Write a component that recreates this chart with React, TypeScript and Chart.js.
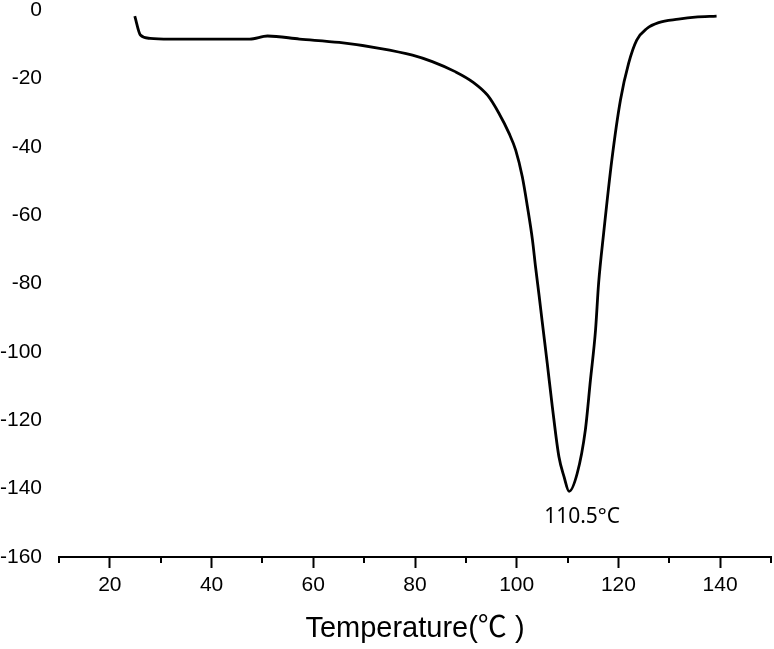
import React, { useEffect, useRef } from "react";
import { Chart, registerables } from "chart.js";

Chart.register(...registerables);

// Temperature (°C) and heat flow readings of the DSC curve
const temperature = [
  24.9, 26.0, 27.9, 31.8, 39.6, 47.5, 51.0, 57.3, 65.1, 73.0, 79.5, 83.4, 88.0,
  91.3, 94.3, 96.5, 98.5, 99.8, 101.1, 102.1, 103.1, 103.7, 104.4, 105.0, 106.0,
  107.0, 108.3, 109.3, 110.3, 111.9, 113.5, 114.5, 115.5, 116.1, 117.1, 118.7,
  120.4, 122.0, 123.6, 125.6, 127.9, 131.8, 135.1, 139.3,
];
const heatFlow = [
  -1.8, -7.3, -8.3, -8.5, -8.5, -8.5, -7.6, -8.5, -9.5, -11.2, -13.2, -15.1, -18.1,
  -21.0, -25.0, -30.2, -36.1, -41.0, -48.8, -57.5, -67.3, -75.1, -83.5, -91.0, -103.3,
  -116.0, -130.7, -136.5, -140.8, -135.5, -122.8, -108.2, -93.6, -80.0, -65.2, -43.9,
  -26.3, -15.6, -8.8, -5.4, -3.7, -2.7, -2.1, -1.8,
];

const xTickValues = [20, 40, 60, 80, 100, 120, 140];
const yTickValues = [0, -20, -40, -60, -80, -100, -120, -140, -160];
const peakLabel = "110.5°C";
const peakTemperature = 110.5;
const peakValue = -140.8;
const xTitle = "Temperature(℃ )";

const FONT = "'Liberation Sans', Arial, 'Noto Sans CJK SC', sans-serif";

export default function App() {
  const canvasRef = useRef<HTMLCanvasElement | null>(null);

  useEffect(() => {
    document.body.style.margin = "0";
    const canvas = canvasRef.current;
    if (!canvas) return;

    const extras = {
      id: "extras",
      afterDraw(chart: any) {
        const ctx = chart.ctx;
        const xs = chart.scales.x;
        const ys = chart.scales.y;
        const bottom = chart.chartArea.bottom;
        ctx.save();
        // minor ticks
        ctx.strokeStyle = "#000";
        ctx.lineWidth = 2;
        for (let v = xs.min; v <= xs.max; v += 10) {
          if (xTickValues.includes(v)) continue;
          const px = Math.round(xs.getPixelForValue(v));
          ctx.beginPath();
          ctx.moveTo(px, bottom);
          ctx.lineTo(px, bottom + 6);
          ctx.stroke();
        }
        // peak annotation
        ctx.fillStyle = "#000";
        ctx.font = "21px 'Noto Sans', 'Open Sans', sans-serif";
        ctx.textAlign = "center";
        ctx.textBaseline = "middle";
        ctx.fillText(
          peakLabel,
          xs.getPixelForValue(peakTemperature) + 12,
          ys.getPixelForValue(peakValue) + 26
        );
        ctx.restore();
      },
    };

    const chart = new Chart(canvas, {
      type: "line",
      data: {
        datasets: [
          {
            data: temperature.map((t, i) => ({ x: t, y: heatFlow[i] })),
            borderColor: "#000",
            borderWidth: 2.8,
            pointRadius: 0,
            cubicInterpolationMode: "monotone",
            fill: false,
          },
        ],
      },
      options: {
        responsive: false,
        animation: false,
        devicePixelRatio: 1,
        layout: { padding: { top: 10, right: 3, left: 0, bottom: 0 } },
        plugins: { legend: { display: false }, tooltip: { enabled: false } },
        scales: {
          x: {
            type: "linear",
            min: 10,
            max: 150,
            afterFit(scale: any) {
              scale.height = 92;
              scale.paddingLeft = 0;
              scale.paddingRight = 0;
            },
            afterBuildTicks(scale: any) {
              scale.ticks = xTickValues.map((v) => ({ value: v }));
            },
            border: { display: true, color: "#000", width: 2 },
            grid: {
              display: true,
              drawOnChartArea: false,
              drawTicks: true,
              tickLength: 11,
              tickWidth: 2,
              tickColor: "#000",
            },
            ticks: {
              color: "#000",
              padding: 5,
              maxRotation: 0,
              font: { family: FONT, size: 21 },
            },
            title: {
              display: true,
              text: xTitle,
              color: "#000",
              padding: { top: 0, bottom: 3 },
              font: { family: FONT, size: 29 },
            },
          },
          y: {
            type: "linear",
            min: -160,
            max: 0,
            afterFit(scale: any) {
              scale.width = 59;
              scale.paddingTop = 0;
              scale.paddingBottom = 0;
            },
            afterBuildTicks(scale: any) {
              scale.ticks = yTickValues.map((v) => ({ value: v }));
            },
            border: { display: false },
            grid: { display: false, drawTicks: false },
            ticks: {
              color: "#000",
              padding: 17,
              font: { family: FONT, size: 21 },
            },
          },
        },
      },
      plugins: [extras],
    });

    return () => chart.destroy();
  }, []);

  return (
    <div style={{ position: "absolute", left: 0, top: 0, width: 774, height: 649, background: "#fff" }}>
      <canvas ref={canvasRef} width={774} height={649} />
    </div>
  );
}
